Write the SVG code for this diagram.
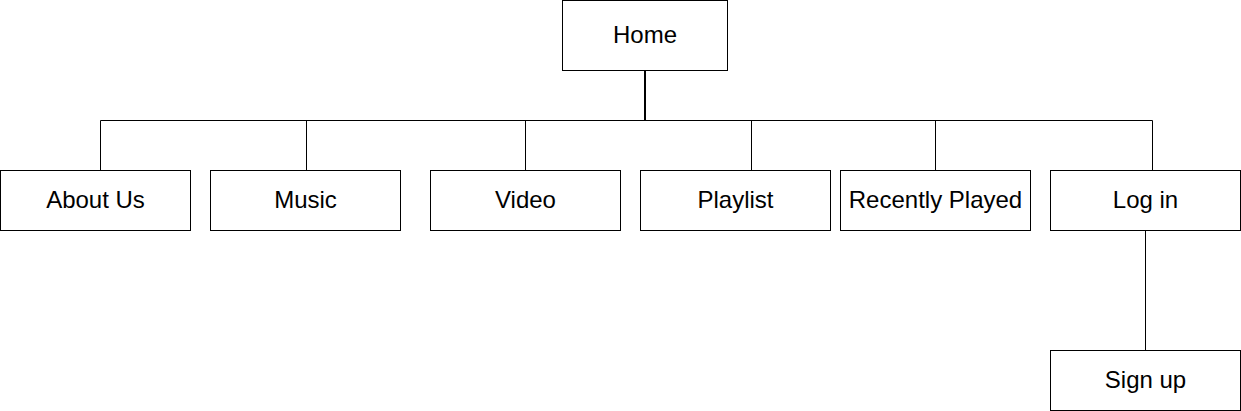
<svg xmlns="http://www.w3.org/2000/svg" width="1241" height="411" viewBox="0 0 1241 411">
<style>
.n rect{fill:#fff;stroke:#000;stroke-width:1}
.n text{font-family:"Liberation Sans",Arial,sans-serif;font-size:24px;fill:#000;text-anchor:middle;dominant-baseline:central}
.c path{fill:none;stroke:#000;stroke-width:1}
</style>
<rect width="1241" height="411" fill="#fff"/>
<g class="c" id="connectors">
<path d="M645 71V120" style="stroke-width:2"/>
<path d="M100.5 170V120.5H1152.5V170"/>
<path d="M306.5 120.5V170"/>
<path d="M525.5 120.5V170"/>
<path d="M751.5 120.5V170"/>
<path d="M935.5 120.5V170"/>
<path d="M1145.5 231V350"/>
</g>
<g class="n" id="home"><rect x="562.5" y="0.5" width="165" height="70"/><text x="645" y="34.5">Home</text></g>
<g class="n" id="about"><rect x="0.5" y="170.5" width="190" height="60"/><text x="95.5" y="199.5">About Us</text></g>
<g class="n" id="music"><rect x="210.5" y="170.5" width="190" height="60"/><text x="305.5" y="199.5">Music</text></g>
<g class="n" id="video"><rect x="430.5" y="170.5" width="190" height="60"/><text x="525.5" y="199.5">Video</text></g>
<g class="n" id="playlist"><rect x="640.5" y="170.5" width="190" height="60"/><text x="735.5" y="199.5">Playlist</text></g>
<g class="n" id="recent"><rect x="840.5" y="170.5" width="190" height="60"/><text x="935.5" y="199.5">Recently Played</text></g>
<g class="n" id="login"><rect x="1050.5" y="170.5" width="190" height="60"/><text x="1145.5" y="199.5">Log in</text></g>
<g class="n" id="signup"><rect x="1050.5" y="350.5" width="190" height="60"/><text x="1145.5" y="379.5">Sign up</text></g>
</svg>
